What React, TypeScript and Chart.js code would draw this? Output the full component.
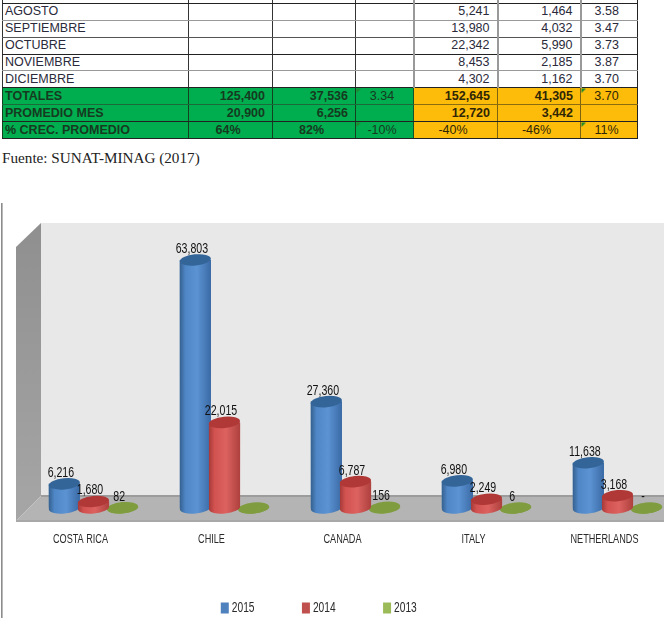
import React, { useEffect, useRef } from "react";
import { Chart, registerables } from "chart.js";

Chart.register(...registerables);

const categories = ["COSTA RICA", "CHILE", "CANADA", "ITALY", "NETHERLANDS"];
const series2015 = [6216, 63803, 27360, 6980, 11638];
const series2014 = [1680, 22015, 6787, 2249, 3168];
const series2013 = [82, 0, 156, 6, 0];
const seriesNames = ["2015", "2014", "2013"];
const hiddenLabels = [false, true, false, false, false];

const tableRows = [
  ["", "", "", "", "", "", ""],
  ["AGOSTO", "", "", "", "5,241", "1,464", "3.58"],
  ["SEPTIEMBRE", "", "", "", "13,980", "4,032", "3.47"],
  ["OCTUBRE", "", "", "", "22,342", "5,990", "3.73"],
  ["NOVIEMBRE", "", "", "", "8,453", "2,185", "3.87"],
  ["DICIEMBRE", "", "", "", "4,302", "1,162", "3.70"],
];
const summaryRows = [
  ["TOTALES", "125,400", "37,536", "3.34", "152,645", "41,305", "3.70"],
  ["PROMEDIO MES", "20,900", "6,256", "", "12,720", "3,442", ""],
  ["% CREC. PROMEDIO", "64%", "82%", "-10%", "-40%", "-46%", "11%"],
];
const columnWidths = [186, 84, 83, 58, 84, 83, 57];
const lineColors = ["#222", "#222", "#999", "#555", "#222", "#999"];

const fillColors = ["#4f81bd", "#c0504d", "#9bbb59"];
const bodyColors = [
  ["#34618f", "#4f86c6", "#5c93d3", "#3a6aa5"],
  ["#a53a38", "#d25250", "#dc6260", "#ad403d"],
  ["#7b9a3e", "#84a343", "#84a343", "#7b9a3e"],
];
const topColors = ["#336599", "#b03836", "#7f9c3f"];
const sans = '"Liberation Sans", sans-serif';
const textSqueeze = 0.73;
const legendTextShift = -4;

const cylinderPlugin = {
  id: "cylinders",
  beforeDraw(chart: any) {
    const ctx = chart.ctx;
    if (ctx.__squeezed) return;
    ctx.__squeezed = true;
    const orig = ctx.fillText.bind(ctx);
    ctx.fillText = (text: string, x: number, y: number, maxWidth?: number) => {
      ctx.save();
      const dx = ctx.textAlign === "left" ? legendTextShift : 0;
      ctx.translate(x + dx, y);
      ctx.scale(textSqueeze, 1);
      if (maxWidth === undefined) orig(text, 0, 0);
      else orig(text, 0, 0, maxWidth);
      ctx.restore();
    };
  },
  beforeDatasetsDraw(chart: any) {
    const { ctx, chartArea: a } = chart;
    const wallX = a.left + 13;
    const floorBack = a.bottom - 12;
    const floorFront = a.bottom + 13;
    const right = 664;
    ctx.save();
    ctx.fillStyle = "#e8e8e8";
    ctx.fillRect(wallX, a.top, right - wallX, floorBack - a.top);
    const side = ctx.createLinearGradient(0, a.top, 0, floorFront);
    side.addColorStop(0, "#8f8f8f");
    side.addColorStop(1, "#a6a6a6");
    ctx.fillStyle = side;
    ctx.beginPath();
    ctx.moveTo(16, a.top + 24);
    ctx.lineTo(wallX, a.top);
    ctx.lineTo(wallX, floorBack);
    ctx.lineTo(16, floorFront);
    ctx.closePath();
    ctx.fill();
    ctx.fillStyle = "#b4b4b4";
    ctx.beginPath();
    ctx.moveTo(wallX, floorBack);
    ctx.lineTo(right, floorBack);
    ctx.lineTo(right, floorFront);
    ctx.lineTo(16, floorFront);
    ctx.closePath();
    ctx.fill();
    ctx.fillStyle = "#9c9c9c";
    ctx.fillRect(wallX, floorBack - 1, right - wallX, 2);
    ctx.fillStyle = "#a8a8a8";
    ctx.fillRect(16, floorFront - 1, right - 16, 2);
    ctx.fillStyle = "#8c8c8c";
    ctx.fillRect(1, 203, 1.6, 415);
    ctx.restore();
  },
  afterDatasetsDraw(chart: any) {
    const { ctx } = chart;
    const ry = 5.6;
    const tilt = -0.1;
    ctx.save();
    [0, 2, 1].forEach((d) => {
      chart.getDatasetMeta(d).data.forEach((bar: any) => {
        const { x, y, base, width } = bar.getProps(["x", "y", "base", "width"], true);
        const rx = width / 2;
        const g = ctx.createLinearGradient(x - rx, 0, x + rx, 0);
        const c = bodyColors[d];
        g.addColorStop(0, c[0]);
        g.addColorStop(0.18, c[1]);
        g.addColorStop(0.55, c[2]);
        g.addColorStop(1, c[3]);
        ctx.fillStyle = g;
        ctx.beginPath();
        ctx.ellipse(x, base, rx, ry, tilt, 0, Math.PI);
        ctx.lineTo(x - rx, y);
        ctx.lineTo(x + rx, y);
        ctx.closePath();
        ctx.fill();
        ctx.fillStyle = topColors[d];
        ctx.beginPath();
        ctx.ellipse(x, y, rx, ry, tilt, 0, Math.PI * 2);
        ctx.fill();
      });
    });
    ctx.fillStyle = "#111";
    ctx.font = `14.5px ${sans}`;
    ctx.textAlign = "center";
    ctx.textBaseline = "middle";
    chart.data.datasets.forEach((ds: any, d: number) => {
      chart.getDatasetMeta(d).data.forEach((bar: any, i: number) => {
        const v = ds.data[i];
        if (v === 0 && hiddenLabels[i]) return;
        const text = v === 0 ? "-" : v.toLocaleString("en-US");
        ctx.fillText(text, bar.x - 3.5, bar.y - 11);
      });
    });
    ctx.restore();
  },
  afterLayout(chart: any) {
    chart.legend.left -= 30.5;
    chart.legend.right -= 30.5;
  },
};

const cell = (extra: React.CSSProperties): React.CSSProperties => ({
  height: 16.9,
  padding: "0 7px 0 2px",
  overflow: "hidden",
  whiteSpace: "nowrap",
  boxSizing: "border-box",
  lineHeight: "15px",
  ...extra,
});

const cellAlign = (i: number, j: number, row: number) => {
  if (j === 0) return "left";
  if (j === 3 || j === 6 || row === 2) return "center";
  return "right";
};

const isBold = (j: number, row: number) => {
  if (j === 0) return true;
  if (j === 3 || j === 6) return false;
  return !(row === 2 && j > 3);
};

const cornerMark = (row: number, j: number) =>
  (j === 3 || j === 6) && row !== 1
    ? "linear-gradient(135deg, #1f8a2e 3px, transparent 3px)"
    : undefined;

export default function App() {
  const ref = useRef<HTMLCanvasElement>(null);

  useEffect(() => {
    const chart = new Chart(ref.current!, {
      type: "bar",
      plugins: [cylinderPlugin],
      data: {
        labels: categories,
        datasets: [series2015, series2014, series2013].map((data, i) => ({
          label: seriesNames[i],
          data,
          backgroundColor: fillColors[i],
          categoryPercentage: 0.667,
          barPercentage: 1.07,
        })),
      },
      options: {
        animation: false,
        responsive: false,
        layout: { padding: { top: 223, left: 28 } },
        scales: {
          x: {
            grid: { display: false },
            border: { display: false },
            ticks: {
              padding: 16,
              labelOffset: -13,
              maxRotation: 0,
              autoSkip: false,
              color: "#2a2a2a",
              font: { family: sans, size: 12.5 },
            },
            afterFit: (s: any) => {
              s.height = 58;
            },
          },
          y: { display: false, min: 0, max: 73300 },
        },
        plugins: {
          tooltip: { enabled: false },
          legend: {
            position: "bottom",
            maxHeight: 52,
            labels: {
              boxWidth: 8,
              boxHeight: 11,
              padding: 35,
              color: "#2a2a2a",
              font: { family: sans, size: 14 },
            },
          },
        },
      } as any,
    });
    return () => chart.destroy();
  }, []);

  return (
    <div style={{ position: "absolute", left: 0, top: 0, width: 665, height: 618, overflow: "hidden", background: "#fff" }}>
      <table
        style={{
          position: "absolute",
          left: 2,
          top: -14,
          borderCollapse: "collapse",
          tableLayout: "fixed",
          width: 635,
          fontFamily: '"Liberation Sans", Arial, sans-serif',
          fontSize: 12.5,
          color: "#2a2a3a",
        }}
      >
        <colgroup>
          {columnWidths.map((w, i) => (
            <col key={i} style={{ width: w }} />
          ))}
        </colgroup>
        <tbody>
          {tableRows.map((row, i) => (
            <tr key={i}>
              {row.map((t, j) => (
                <td
                  key={j}
                  style={cell({
                    textAlign: cellAlign(i, j, -1) as any,
                    borderLeft: j >= 4 ? "2px solid #999" : "1px solid #333",
                    borderRight: j === 6 ? "1px solid #222" : undefined,
                    borderTop: `1px solid ${lineColors[i]}`,
                    borderBottom: `1px solid ${i === 5 ? "#222" : lineColors[i + 1]}`,
                  })}
                >
                  {t}
                </td>
              ))}
            </tr>
          ))}
          {summaryRows.map((row, i) => (
            <tr key={i}>
              {row.map((t, j) => (
                <td
                  key={j}
                  style={cell({
                    textAlign: cellAlign(i, j, i) as any,
                    backgroundColor: j < 4 ? "#00ad4f" : "#fdbb0a",
                    backgroundImage: cornerMark(i, j),
                    color: j < 4 ? "#163a20" : "#2f2606",
                    fontWeight: isBold(j, i) ? 700 : 400,
                    borderLeft: j === 4 ? "1px solid #14532d" : j > 4 ? "1px solid #7d6210" : "1px solid #14401f",
                    borderRight: j === 6 ? "1px solid #222" : undefined,
                    borderTop: i === 1 ? (j < 4 ? "1px solid #1c6a3a" : "1px solid #8a6d10") : "1px solid #222",
                    borderBottom: i === 0 ? (j < 4 ? "1px solid #1c6a3a" : "1px solid #8a6d10") : "1px solid #222",
                  })}
                >
                  {t}
                </td>
              ))}
            </tr>
          ))}
        </tbody>
      </table>
      <div
        style={{
          position: "absolute",
          left: 2,
          top: 149,
          font: '15.2px "Liberation Serif", serif',
          color: "#222",
          whiteSpace: "nowrap",
        }}
      >
        Fuente: SUNAT-MINAG (2017)
      </div>
      <canvas ref={ref} width={683} height={618} style={{ position: "absolute", left: 0, top: 0, display: "block" }} />
    </div>
  );
}
